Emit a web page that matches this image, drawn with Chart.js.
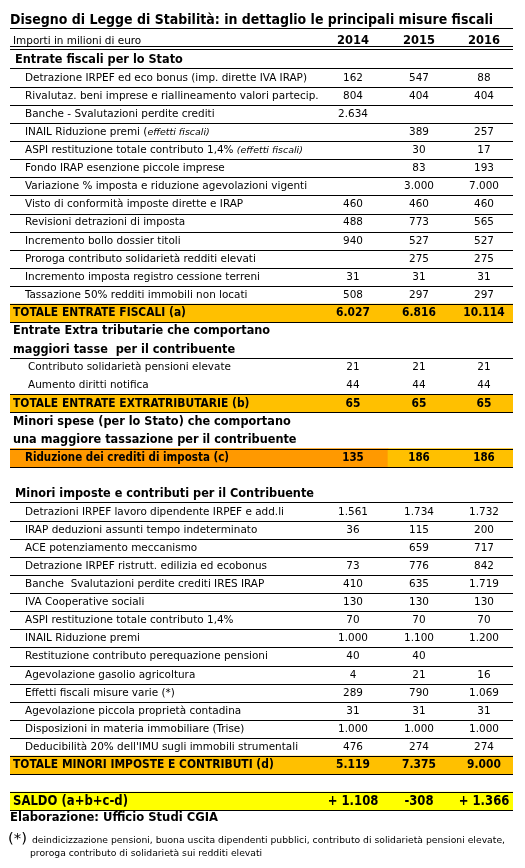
<!DOCTYPE html>
<html><head><meta charset="utf-8">
<script src="https://cdn.jsdelivr.net/npm/chart.js@4"></script>
<style>html,body{margin:0;padding:0;background:#fff}canvas{display:block}</style>
</head><body>
<canvas id="c" width="525" height="868"></canvas>
<script>
// ---------- DATA ----------
const titleText = "Disegno di Legge di Stabilità: in dettaglio le principali misure fiscali";
const unitText = "Importi in milioni di euro";
const years = ["2014", "2015", "2016"];

const entrateHeader = "Entrate fiscali per lo Stato";
const entrateLabels = [
  "Detrazione IRPEF ed eco bonus (imp. dirette IVA IRAP)",
  "Rivalutaz. beni imprese e riallineamento valori partecip.",
  "Banche - Svalutazioni perdite crediti",
  "INAIL Riduzione premi (",
  "ASPI restituzione totale contributo 1,4% ",
  "Fondo IRAP esenzione piccole imprese",
  "Variazione % imposta e riduzione agevolazioni vigenti",
  "Visto di conformità imposte dirette e IRAP",
  "Revisioni detrazioni di imposta",
  "Incremento bollo dossier titoli",
  "Proroga contributo solidarietà redditi elevati",
  "Incremento imposta registro cessione terreni",
  "Tassazione 50% redditi immobili non locati"
];
const entrateNotes = [null, null, null, "effetti fiscali)", "(effetti fiscali)", null, null, null, null, null, null, null, null];
const entrate2014 = [162, 804, 2634, null, null, null, null, 460, 488, 940, null, 31, 508];
const entrate2015 = [547, 404, null, 389, 30, 83, 3000, 460, 773, 527, 275, 31, 297];
const entrate2016 = [88, 404, null, 257, 17, 193, 7000, 460, 565, 527, 275, 31, 297];
const entrateTotal = ["TOTALE ENTRATE FISCALI (a)", 6027, 6816, 10114];

const extraHeader = ["Entrate Extra tributarie che comportano", "maggiori tasse  per il contribuente"];
const extraLabels = ["Contributo solidarietà pensioni elevate", "Aumento diritti notifica"];
const extra2014 = [21, 44];
const extra2015 = [21, 44];
const extra2016 = [21, 44];
const extraTotal = ["TOTALE ENTRATE EXTRATRIBUTARIE (b)", 65, 65, 65];

const speseHeader = ["Minori spese (per lo Stato) che comportano", "una maggiore tassazione per il contribuente"];
const speseRow = ["Riduzione dei crediti di imposta (c)", 135, 186, 186];

const minoriHeader = "Minori imposte e contributi per il Contribuente";
const minoriLabels = [
  "Detrazioni IRPEF lavoro dipendente IRPEF e add.li",
  "IRAP deduzioni assunti tempo indeterminato",
  "ACE potenziamento meccanismo",
  "Detrazione IRPEF ristrutt. edilizia ed ecobonus",
  "Banche  Svalutazioni perdite crediti IRES IRAP",
  "IVA Cooperative sociali",
  "ASPI restituzione totale contributo 1,4%",
  "INAIL Riduzione premi",
  "Restituzione contributo perequazione pensioni",
  "Agevolazione gasolio agricoltura",
  "Effetti fiscali misure varie (*)",
  "Agevolazione piccola proprietà contadina",
  "Disposizioni in materia immobiliare (Trise)",
  "Deducibilità 20% dell'IMU sugli immobili strumentali"
];
const minori2014 = [1561, 36, null, 73, 410, 130, 70, 1000, 40, 4, 289, 31, 1000, 476];
const minori2015 = [1734, 115, 659, 776, 635, 130, 70, 1100, 40, 21, 790, 31, 1000, 274];
const minori2016 = [1732, 200, 717, 842, 1719, 130, 70, 1200, null, 16, 1069, 31, 1000, 274];
const minoriTotal = ["TOTALE MINORI IMPOSTE E CONTRIBUTI (d)", 5119, 7375, 9000];

const saldoRow = ["SALDO (a+b+c-d)", 1108, -308, 1366];
const sourceText = "Elaborazione: Ufficio Studi CGIA";
const footStar = "(*)";
const footLines = [
  "deindicizzazione pensioni, buona uscita dipendenti pubblici, contributo di solidarietà pensioni elevate,",
  "proroga contributo di solidarietà sui redditi elevati"
];

// ---------- BUILD ROWS ----------
const rows = [];
rows.push({kind: "title", label: titleText});
rows.push({kind: "head", label: unitText, vals: years});
rows.push({kind: "section", label: entrateHeader});
entrateLabels.forEach((l, i) => rows.push({kind: "data", label: l, note: entrateNotes[i], vals: [entrate2014[i], entrate2015[i], entrate2016[i]]}));
rows.push({kind: "total", label: entrateTotal[0], vals: entrateTotal.slice(1)});
rows.push({kind: "section2a", label: extraHeader[0]});
rows.push({kind: "section2b", label: extraHeader[1]});
extraLabels.forEach((l, i) => rows.push({kind: "extra", label: l, vals: [extra2014[i], extra2015[i], extra2016[i]]}));
rows.push({kind: "total", label: extraTotal[0], vals: extraTotal.slice(1)});
rows.push({kind: "section2a", label: speseHeader[0]});
rows.push({kind: "section2a", label: speseHeader[1]});
rows.push({kind: "reduction", label: speseRow[0], vals: speseRow.slice(1)});
rows.push({kind: "blank"});
rows.push({kind: "section", label: minoriHeader});
minoriLabels.forEach((l, i) => rows.push({kind: "data", label: l, vals: [minori2014[i], minori2015[i], minori2016[i]]}));
rows.push({kind: "total", label: minoriTotal[0], vals: minoriTotal.slice(1)});
rows.push({kind: "blankLine"});
rows.push({kind: "saldo", label: saldoRow[0], vals: saldoRow.slice(1)});
rows.push({kind: "source", label: sourceText});
rows.push({kind: "foot1", label: footLines[0]});
rows.push({kind: "foot2", label: footLines[1]});

// ---------- STYLE ----------
const X_MAX = 503;               // table width in x-scale units
const COLS = [343, 409, 474];    // column centres (x-scale units)
const SPLIT = 378;               // dark/light split for reduction row
const GOLD = "#FFC000", DARK = "#FF9900", YELLOW = "#FFFF00";
const FAM = '"DejaVu Sans Condensed", "DejaVu Sans", sans-serif';

const mctx = document.createElement("canvas").getContext("2d");
function fit(weight, style, size, sample, target) {
  const font = `${style} ${weight} ${size}px ${FAM}`;
  mctx.font = font;
  const w = mctx.measureText(sample).width;
  return {font, sx: target / w};
}
const F = {
  title: fit("bold", "normal", 14, titleText, 483),
  reg: fit("normal", "normal", 11, entrateLabels[0], 282),
  bold: fit("bold", "normal", 12.5, entrateTotal[0], 173),
  sec: fit("bold", "normal", 13, minoriHeader, 299),
  red: fit("bold", "normal", 12.5, speseRow[0], 204),
  year: fit("bold", "normal", 12.5, "2014", 32),
  saldo: fit("bold", "normal", 14, saldoRow[0], 115),
  src: fit("bold", "normal", 12.5, sourceText, 208),
  foot: fit("normal", "normal", 9.5, footLines[0], 473),
  star: fit("normal", "normal", 14, footStar, 19),
  note: fit("normal", "italic", 8, "(effetti fiscali)", 66)
};

const KIND = {
  title:     {font: F.title, x: 0,  dy: -3, line: 4},
  head:      {font: F.reg, vfont: F.year, x: 3, dy: -1, dbl: [4, 7]},
  section:   {font: F.sec, x: 5, line: 8},
  section2a: {font: F.sec, x: 3},
  section2b: {font: F.sec, x: 3, line: 9},
  data:      {font: F.reg, vfont: F.reg, x: 15, line: 9},
  extra:     {font: F.reg, vfont: F.reg, x: 18},
  total:     {font: F.bold, vfont: F.bold, x: 3, band: GOLD, line: 9},
  reduction: {font: F.red, vfont: F.red, x: 15, band: GOLD, line: 9},
  blank:     {},
  blankLine: {line: 9},
  saldo:     {font: F.saldo, vfont: F.saldo, x: 3, band: YELLOW, line: 9},
  source:    {font: F.src, x: 0, dy: -2},
  foot1:     {font: F.foot, x: 22, dy: 3},
  foot2:     {font: F.foot, x: 20, dy: -2}
};

function fmt(v) {
  if (v === null || v === undefined) return "";
  if (typeof v === "string") return v;
  const s = Math.abs(v).toString().replace(/\B(?=(\d{3})+(?!\d))/g, ".");
  return v < 0 ? "-" + s : s;
}
function fmtSaldo(v) { return v > 0 ? "+ " + fmt(v) : fmt(v); }

function drawText(ctx, f, text, x, y, align) {
  ctx.save();
  ctx.font = f.font;
  ctx.textAlign = align;
  ctx.textBaseline = "middle";
  ctx.translate(x, y);
  ctx.scale(f.sx, 1);
  ctx.fillText(text, 0, 0);
  const w = ctx.measureText(text).width * f.sx;
  ctx.restore();
  return w;
}

// ---------- DATASETS ----------
const bandData = rows.map(r => r.kind === "reduction" ? [SPLIT, X_MAX] : (KIND[r.kind].band ? [0, X_MAX] : null));
const bandColors = rows.map(r => KIND[r.kind].band || "transparent");
const darkData = rows.map(r => r.kind === "reduction" ? [0, SPLIT] : null);

const tablePlugin = {
  id: "tableText",
  afterDatasetsDraw(chart) {
    const {ctx, scales: {x, y}} = chart;
    const pitch = y.getPixelForValue(1) - y.getPixelForValue(0);
    const x0 = x.getPixelForValue(0), x1 = x.getPixelForValue(X_MAX);
    ctx.save();
    ctx.fillStyle = "#000";
    ctx.strokeStyle = "#000";
    ctx.lineWidth = 1;
    const hline = (yy) => {
      const py = Math.round(yy) + 0.5;
      ctx.beginPath(); ctx.moveTo(x0, py); ctx.lineTo(x1, py); ctx.stroke();
    };
    rows.forEach((r, i) => {
      const st = KIND[r.kind];
      const c = y.getPixelForValue(i);
      const cy = c + (st.dy || 0);
      if (r.label) {
        const lx = x.getPixelForValue(st.x);
        const w = drawText(ctx, st.font, r.label, lx, cy, "left");
        if (r.note) drawText(ctx, F.note, r.note, lx + w, cy + 1, "left");
      }
      if (r.kind === "foot1") drawText(ctx, F.star, footStar, x.getPixelForValue(-2), cy - 1, "left");
      if (r.vals) {
        r.vals.forEach((v, k) => {
          const t = r.kind === "saldo" ? fmtSaldo(v) : fmt(v);
          drawText(ctx, st.vfont, t, x.getPixelForValue(COLS[k]), cy, "center");
        });
      }
      if (st.line !== undefined) hline(c + st.line);
      if (st.band) hline(c - pitch / 2);
      if (st.dbl) { hline(c + st.dbl[0]); hline(c + st.dbl[1]); }
    });
    ctx.restore();
  }
};

new Chart(document.getElementById("c"), {
  type: "bar",
  data: {
    labels: rows.map((r, i) => String(i)),
    datasets: [
      {data: bandData, backgroundColor: bandColors, grouped: false, barPercentage: 1, categoryPercentage: 1, borderWidth: 0},
      {data: darkData, backgroundColor: DARK, grouped: false, barPercentage: 1, categoryPercentage: 1, borderWidth: 0}
    ]
  },
  options: {
    indexAxis: "y",
    responsive: false,
    animation: false,
    events: [],
    layout: {padding: {left: 10, right: 12, top: 14.7, bottom: 3.5}},
    plugins: {legend: {display: false}, tooltip: {enabled: false}},
    scales: {
      x: {type: "linear", min: 0, max: X_MAX, display: false},
      y: {type: "category", display: false, offset: true}
    }
  },
  plugins: [tablePlugin]
});
</script>
</body></html>
